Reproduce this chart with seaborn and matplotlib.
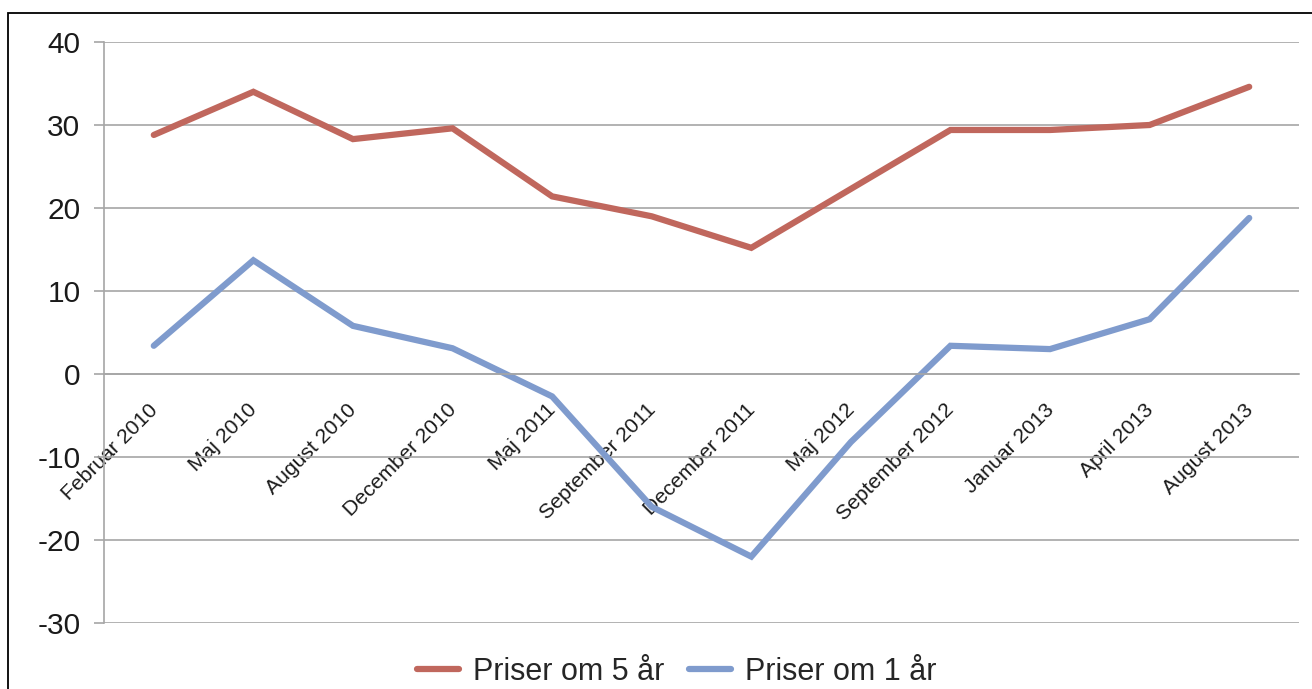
import matplotlib
matplotlib.use("Agg")
import matplotlib.pyplot as plt
from matplotlib.patches import Rectangle
from matplotlib.transforms import ScaledTranslation
import seaborn as sns
import pandas as pd
import numpy as np

# Survey dates (category axis)
categories = ["Februar 2010", "Maj 2010", "August 2010", "December 2010",
              "Maj 2011", "September 2011", "December 2011", "Maj 2012",
              "September 2012", "Januar 2013", "April 2013", "August 2013"]

# Expected price change, net balance
priser_5_ar = [28.8, 34.0, 28.3, 29.6, 21.4, 19.0, 15.2, 22.3, 29.4, 29.4, 30.0, 34.6]
priser_1_ar = [3.4, 13.7, 5.8, 3.1, -2.7, -16.0, -22.0, -8.2, 3.4, 3.0, 6.6, 18.8]

series_names = ["Priser om 5 år", "Priser om 1 år"]
y_ticks = [-30, -20, -10, 0, 10, 20, 30, 40]

red = "#C0675D"
blue = "#7F9BCD"
grid_col = "#A6A6A6"
lw = 4.5

df = pd.DataFrame({
    "pos": list(range(len(categories))) * 2,
    "value": priser_5_ar + priser_1_ar,
    "serie": [series_names[0]] * len(categories) + [series_names[1]] * len(categories),
})

sns.set_style("white")
plt.rcParams["font.family"] = ["Liberation Sans", "DejaVu Sans"]

fig = plt.figure(figsize=(13.12, 6.89), dpi=100)
ax = fig.add_axes([104 / 1312, 1 - 623 / 689, (1299 - 104) / 1312, (623 - 42) / 689])

sns.lineplot(data=df, x="pos", y="value", hue="serie",
             palette={series_names[0]: red, series_names[1]: blue},
             linewidth=lw, ax=ax, legend=False, sort=False,
             solid_capstyle="round", solid_joinstyle="miter")

ax.set_xlim(-0.5, len(categories) - 0.5)
ax.set_ylim(-30, 40)
ax.set_yticks(y_ticks)
ax.set_yticklabels([str(v) for v in y_ticks], fontsize=21.5, color="#1a1a1a")
ax.yaxis.grid(True, color=grid_col, linewidth=1.2)
ax.set_axisbelow(True)
ax.set_xlabel("")
ax.set_ylabel("")

# Category axis crosses at zero
for s in ["top", "right"]:
    ax.spines[s].set_visible(False)
ax.spines["bottom"].set_position(("data", 0))
ax.spines["bottom"].set_color(grid_col)
ax.spines["bottom"].set_linewidth(1.2)
ax.spines["left"].set_color(grid_col)
ax.spines["left"].set_linewidth(1.2)

# Tick marks at category boundaries, labels at category centres
ax.set_xticks(np.arange(-0.5, len(categories)), minor=False)
ax.set_xticklabels([])
ax.set_xticks(np.arange(len(categories)), minor=True)
ax.tick_params(axis="x", which="major", direction="out", length=6, width=1.2, color=grid_col)
ax.tick_params(axis="x", which="minor", length=0, pad=19)
ax.tick_params(axis="y", direction="out", length=7, width=1.2, color=grid_col, pad=10, left=True)
ax.set_xticklabels(categories, minor=True, rotation=45, ha="right",
                   rotation_mode="anchor", fontsize=15.2, color="#1a1a1a")
# nudge the rotated labels slightly left of the category centre
shift = ScaledTranslation(-6 / 100, 0, fig.dpi_scale_trans)
for tick in ax.xaxis.get_minor_ticks():
    tick.label1.set_transform(tick.label1.get_transform() + shift)

# Legend below the plot
handles = [plt.Line2D([], [], color=red, linewidth=lw, solid_capstyle="round"),
           plt.Line2D([], [], color=blue, linewidth=lw, solid_capstyle="round")]
fig.legend(handles, series_names, loc="center", bbox_to_anchor=(677 / 1312, 1 - 672 / 689),
           ncol=2, frameon=False, fontsize=22, handlelength=1.37, handletextpad=0.46,
           columnspacing=0.82, borderpad=0, borderaxespad=0)

# Chart border
fig.patches.append(Rectangle((8 / 1312, -0.1), 1.2, 1 - 13 / 689 + 0.1,
                             transform=fig.transFigure, fill=False,
                             edgecolor="black", linewidth=1.3, clip_on=False))

fig.savefig("out.png", dpi=100)
